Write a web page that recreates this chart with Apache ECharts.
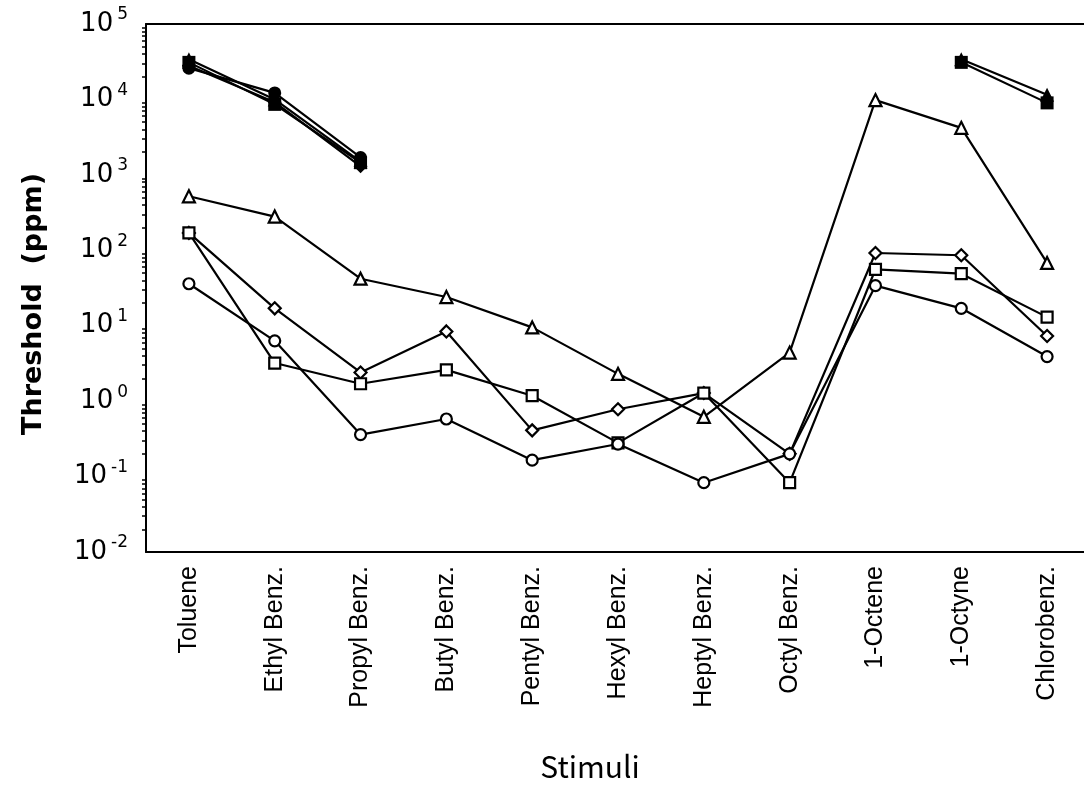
<!DOCTYPE html>
<html>
<head>
<meta charset="utf-8">
<script src="https://cdn.jsdelivr.net/npm/echarts@6/dist/echarts.min.js"></script>
<style>
  html, body { margin: 0; padding: 0; background: #fff; }
  #chart { width: 1084px; height: 792px; }
</style>
</head>
<body>
<div id="chart"></div>
<script>
  var categories = ['Toluene', 'Ethyl Benz.', 'Propyl Benz.', 'Butyl Benz.', 'Pentyl Benz.', 'Hexyl Benz.',
    'Heptyl Benz.', 'Octyl Benz.', '1-Octene', '1-Octyne', 'Chlorobenz.']

  // open markers
  var openTriangle = [520, 280, 42, 24, 9.5, 2.3, 0.62, 4.4, 9800, 4200, 68]
  var openDiamond = [170, 17, 2.4, 8.4, 0.41, 0.78, 1.28, 0.2, 92, 86, 7.3]
  var openSquare = [170, 3.2, 1.7, 2.6, 1.18, 0.28, 1.28, 0.083, 56, 49, 13]
  var openCircle = [36, 6.3, 0.36, 0.58, 0.165, 0.27, 0.083, 0.2, 34, 17, 3.9]

  // filled markers
  var filledTriangle = [34000, 10000, 1500, null, null, null, null, null, null, 34000, 11500]
  var filledSquare = [31000, 8600, 1450, null, null, null, null, null, null, 31000, 9000]
  var filledCircle = [26000, 12200, 1700, null, null, null, null, null, null, null, null]
  var filledDiamond = [28000, 9200, 1300, null, null, null, null, null, null, null, null]

  var yTicks = [0.01, 0.1, 1, 10, 100, 1000, 10000, 100000]
  var yMinorTicks = []
  yTicks.slice(0, -1).forEach(function (d) {
    for (var k = 2; k <= 9; k++) yMinorTicks.push(d * k)
  })

  function lineSeries(name, data, symbol, size, filled) {
    return {
      name: name,
      type: 'line',
      data: data,
      symbol: symbol,
      symbolSize: size,
      connectNulls: false,
      lineStyle: { color: '#000', width: 2.2 },
      itemStyle: {
        color: filled ? '#000' : '#fff',
        borderColor: '#000',
        borderWidth: filled ? 0 : 2.2
      },
      emphasis: { disabled: true }
    }
  }

  var chart = echarts.init(document.getElementById('chart'))
  chart.setOption({
    backgroundColor: '#fff',
    animation: false,
    grid: { left: 146, right: -6, top: 24, bottom: 240, containLabel: false, outerBoundsMode: 'none' },
    xAxis: [{
      type: 'category',
      data: categories,
      boundaryGap: true,
      name: 'Stimuli',
      nameLocation: 'middle',
      nameGap: 200,
      nameTextStyle: { fontSize: 30, fontFamily: 'Noto Sans CJK JP', color: '#000', padding: [0, 56, 0, 0] },
      axisLine: { lineStyle: { color: '#000', width: 2 } },
      axisTick: { alignWithLabel: true, length: 6, lineStyle: { color: '#000', width: 2 } },
      axisLabel: { rotate: 90, margin: 14, fontSize: 25, fontFamily: 'Liberation Sans', color: '#000' },
      splitLine: { show: false }
    }, {
      type: 'category',
      data: categories,
      position: 'top',
      axisLine: { lineStyle: { color: '#000', width: 2 } },
      axisTick: { show: false },
      axisLabel: { show: false }
    }],
    yAxis: [{
      type: 'log',
      logBase: 10,
      min: 0.01,
      max: 100000,
      name: 'Threshold  (ppm)',
      nameLocation: 'middle',
      nameGap: 99,
      nameTextStyle: { fontSize: 27, fontWeight: 'bold', fontFamily: 'DejaVu Sans', color: '#000', padding: [0, 32, 0, 0] },
      axisLine: { show: true, lineStyle: { color: '#000', width: 2 } },
      axisTick: { customValues: yTicks, length: 7, lineStyle: { color: '#000', width: 2 } },
      axisLabel: {
        customValues: yTicks,
        margin: 18,
        formatter: function (v) {
          return '{b|10}{s|' + Math.round(Math.log10(v)) + '}'
        },
        rich: {
          b: { fontSize: 26, fontFamily: 'DejaVu Sans', color: '#000' },
          s: { fontSize: 17, fontFamily: 'DejaVu Sans', color: '#000', verticalAlign: 'top', padding: [0, 0, 18, 4] }
        }
      },
      splitLine: { show: false }
    }, {
      type: 'log',
      logBase: 10,
      min: 0.01,
      max: 100000,
      position: 'left',
      axisLine: { show: false },
      axisTick: { show: true, customValues: yMinorTicks, length: 4, lineStyle: { color: '#000', width: 1.5 } },
      axisLabel: { show: false },
      splitLine: { show: false }
    }],
    series: [
      lineSeries('open triangle', openTriangle, 'triangle', 12, false),
      lineSeries('open diamond', openDiamond, 'diamond', 12, false),
      lineSeries('open square', openSquare, 'rect', 11, false),
      lineSeries('open circle', openCircle, 'circle', 11, false),
      lineSeries('filled triangle', filledTriangle, 'triangle', 14, true),
      lineSeries('filled square', filledSquare, 'rect', 13, true),
      lineSeries('filled circle', filledCircle, 'circle', 13, true),
      lineSeries('filled diamond', filledDiamond, 'diamond', 14, true)
    ]
  })
</script>
</body>
</html>
